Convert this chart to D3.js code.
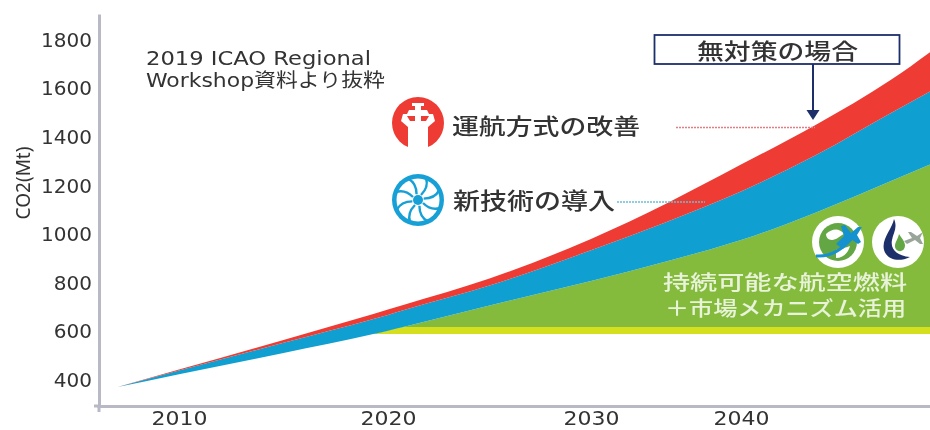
<!DOCTYPE html>
<html><head><meta charset="utf-8">
<script src="https://cdn.jsdelivr.net/npm/d3@7"></script>
<style>
html,body{margin:0;padding:0;background:#fff}
svg{display:block;filter:blur(0.5px)}
text{font-family:"DejaVu Sans","Noto Sans CJK JP",sans-serif;fill:#333}
.jp{font-family:"Noto Sans CJK JP",sans-serif;font-weight:500}
</style></head><body>
<svg id="c" width="930" height="430"></svg>
<script>
const years      = [2007,2010,2015,2019.3,2020,2020.75,2025,2030,2035,2040,2045,2050,2053];
const noAction   = [371,443,565,672,690,709,818,981,1126,1287,1451,1636,1768];
const afterOps   = [371,439,553,651,668,687,789,934,1050,1176,1326,1499,1602];
const afterTech  = [371,424,511,589,603,618,707,808,888,976,1090,1219,1298];
const fuelYears  = years.slice(3);
const fuelTop    = afterTech.slice(3);
const bandTop    = [589,603,618,618,618,618,618,618,618,618];
const fuelBase   = 589;
const yTicks     = [400,600,800,1000,1200,1400,1600,1800];
const xTicks     = [2010,2020,2030,2040];

const svg = d3.select("#c");
const x = d3.scaleLinear().domain([2006,2010,2020,2030,2040,2053]).range([97,179,388,591,741,936]);
const y = d3.scaleLinear().domain([293,1907]).range([406,14]);

const band = (xs, lo, hi, fill) => svg.append("path")
  .attr("fill", fill)
  .attr("d", d3.area().curve(d3.curveMonotoneX)
    .x((d,i)=>x(xs[i])).y0((d,i)=>y(lo[i])).y1((d,i)=>y(hi[i]))(xs));

const baseArr = fuelYears.map(()=>fuelBase);
band(fuelYears, baseArr, fuelTop, "#84bb3d");
band(fuelYears, baseArr, bandTop, "#d6df1e");
band(years, afterTech, afterOps, "#0f9fd0");
band(years, afterOps, noAction, "#ee3b33");

// axes
const axisColor = "#b9b9c6";
const gy = svg.append("g").attr("transform","translate(99,0)")
  .call(d3.axisLeft(y).tickValues(yTicks).tickSize(0).tickPadding(8).tickFormat(d3.format("d")));
const gx = svg.append("g").attr("transform","translate(0,406)")
  .call(d3.axisBottom(x).tickValues(xTicks).tickSize(0).tickPadding(5).tickFormat(d3.format("d")));
[gy,gx].forEach(g=>{
  g.select(".domain").attr("stroke",axisColor).attr("stroke-width",3);
  g.selectAll("text").attr("fill","#333").style("font-family",'"DejaVu Sans",sans-serif').style("font-size","20px");
});
gx.selectAll("text").attr("textLength",56).attr("lengthAdjust","spacingAndGlyphs");
gy.selectAll("text").attr("dx",1);
svg.append("line").attr("x1",99).attr("x2",99).attr("y1",406).attr("y2",412).attr("stroke",axisColor).attr("stroke-width",3);
svg.append("line").attr("x1",94).attr("x2",99).attr("y1",406).attr("y2",406).attr("stroke",axisColor).attr("stroke-width",3);

svg.append("text").attr("transform","translate(30,183) rotate(-90)").attr("text-anchor","middle")
  .style("font-family",'"Noto Sans",sans-serif').style("font-size","19px").text("CO2(Mt)");

// source note
const stretch=(sel,w)=>sel.attr("textLength",w).attr("lengthAdjust","spacingAndGlyphs");
stretch(svg.append("text").attr("x",146).attr("y",65).style("font-size","19px").text("2019 ICAO Regional"),225);
stretch(svg.append("text").attr("x",146).attr("y",87).style("font-size","19px").text("Workshop資料より抜粋"),239);

// labels
const jp=(t,xp,yp,s,w,f)=>stretch(svg.append("text").attr("class","jp").attr("x",xp).attr("y",yp)
  .style("font-size",s+"px").style("fill",f||"#333").text(t),w);
jp("運航方式の改善",452,134,22,188);
jp("新技術の導入",453,209,22.5,162);
jp("持続可能な航空燃料",663,290,20,244,"#e9f3da");
jp("＋市場メカニズム活用",665,316,20,241,"#e9f3da");

// leaders
svg.append("line").attr("x1",676).attr("x2",815).attr("y1",127.5).attr("y2",127.5)
  .attr("stroke","#dc7f86").attr("stroke-width",1.5).attr("stroke-dasharray","2 1");
svg.append("line").attr("x1",617).attr("x2",705).attr("y1",202).attr("y2",202)
  .attr("stroke","#6fbcd6").attr("stroke-width",1.5).attr("stroke-dasharray","2 1");

// callout
const navy="#1d2f6b";
svg.append("rect").attr("x",654.5).attr("y",35).attr("width",245).attr("height",29)
  .attr("fill","#fff").attr("stroke",navy).attr("stroke-width",1.8);
jp("無対策の場合",697,59,22,161);
svg.append("line").attr("x1",813).attr("x2",813).attr("y1",64).attr("y2",112).attr("stroke",navy).attr("stroke-width",2);
svg.append("path").attr("fill",navy).attr("d","M806.5 110H819.5L813 120Z");

// tower icon
const t=svg.append("g").attr("transform","translate(418,123)");
t.append("circle").attr("r",26).attr("fill","#ee3b33");
t.append("path").attr("fill","#fff").attr("d",
 "M-6 -20H6V-17H3V-13H9L11 -9H15L17 -2L10 4V26H-10V4L-17 -2L-15 -9H-11L-9 -13H-3V-17H-6Z");
t.append("path").attr("fill","#ee3b33").attr("d","M-11 -7H-3V-2H-8ZM3 -7H11L8 -2H3Z");

// fan icon
const f=svg.append("g").attr("transform","translate(418,200)");
f.append("circle").attr("r",26).attr("fill","#17a0d6");
f.append("circle").attr("r",21.5).attr("fill","#fff");
d3.range(8).forEach(i=>{
  f.append("path").attr("fill","none").attr("stroke","#17a0d6").attr("stroke-width",2.4)
   .attr("transform",`rotate(${i*45})`).attr("d","M3 -5C8 -10 10 -16 8 -22");
});
f.append("circle").attr("r",5).attr("fill","#17a0d6");

// sustainable-fuel icons
const g1=svg.append("g").attr("transform","translate(838,242)");
g1.append("circle").attr("r",26).attr("fill","#fff");
g1.append("circle").attr("r",19).attr("fill","#62a744");
g1.append("path").attr("fill","#fff").attr("d","M-12 -8C-6 -14 2 -14 6 -8C2 -6 -2 -2 -6 -2C-10 -2 -12 -5 -12 -8ZM-2 8C2 6 8 6 12 4C10 12 4 16 -2 16Z");
g1.append("path").attr("fill","none").attr("stroke","#1591cf").attr("stroke-width",3).attr("d","M-22 14C-8 15 4 8 14 -4");
g1.append("path").attr("fill","#1591cf").attr("d","M-2 2L6 -6L3 -16L7 -17L13 -9L20 -15L24 -15L19 -7L23 0L20 2L13 -3L5 7Z");

const g2=svg.append("g").attr("transform","translate(898,242)");
g2.append("circle").attr("r",26).attr("fill","#fff");
g2.append("path").attr("fill","#1d2f6b").attr("d","M-4 -23C-6 -12 -20 0 -12 12C-8 18 2 20 12 15C0 14 -8 8 -6 -2C-5 -9 0 -14 -4 -23Z");
g2.append("path").attr("fill","#62a744").attr("d","M1 -8C5 -2 9 2 6 7C3 11 -3 9 -3 4C-3 0 0 -3 1 -8Z");
g2.append("path").attr("fill","#9aa59a").attr("d","M6 -1L14 -4L10 -10H13L19 -6L25 -10L22 -4L25 2H22L17 -2L9 2Z");
</script>
</body></html>
